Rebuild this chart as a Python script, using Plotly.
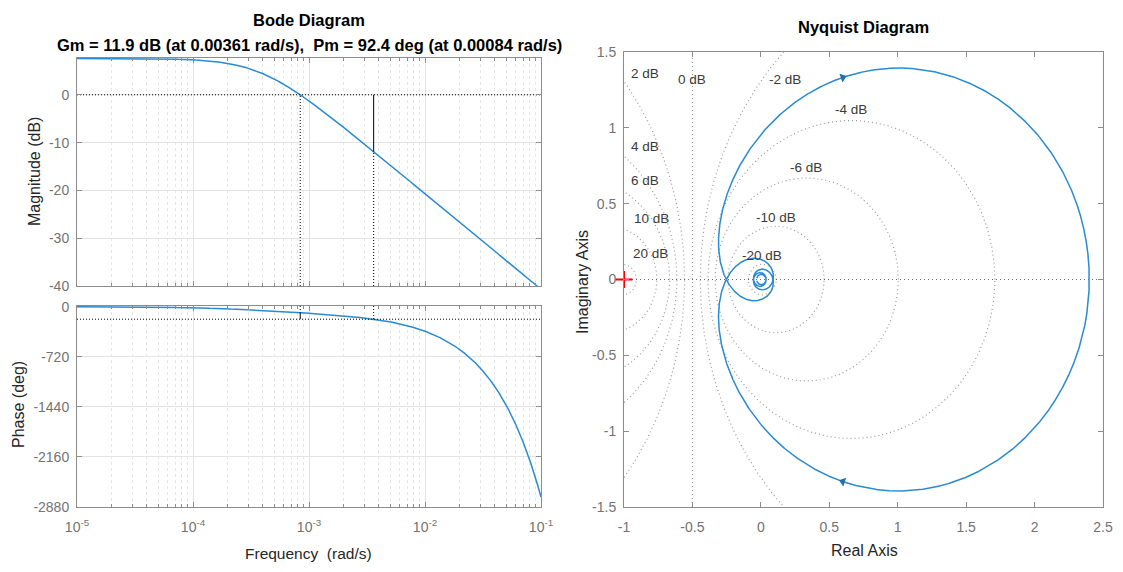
import numpy as np
import plotly.graph_objects as go

# Plant model: G(s) = K * exp(-Td*s) / (tau*s + 1)
dc_gain = 2.4            # static gain (about 7.6 dB)
time_constant = 2597.0   # s
dead_time = 462.0        # s

# Stability margins reported in the title
gm_db = 11.9
gm_freq = 0.00361
pm_deg = 92.4
pm_freq = 0.00084

# Frequency spans (rad/s)
bode_span = [1e-5, 1e-1]
nyquist_span = [1e-5, 3e-2]

# Axis ticks
freq_ticks = [1e-5, 1e-4, 1e-3, 1e-2, 1e-1]
freq_ticktext = ["10<sup>-5</sup>", "10<sup>-4</sup>", "10<sup>-3</sup>",
                 "10<sup>-2</sup>", "10<sup>-1</sup>"]
mag_ticks = [0, -10, -20, -30, -40]
phase_ticks = [0, -720, -1440, -2160, -2880]
re_ticks = [-1, -0.5, 0, 0.5, 1, 1.5, 2, 2.5]
im_ticks = [-1.5, -1, -0.5, 0, 0.5, 1, 1.5]

# Constant closed-loop magnitude contours (dB) for the Nyquist grid
m_levels_db = [20, 10, 6, 4, 2, 0, -2, -4, -6, -10, -20]


def response(w):
    return dc_gain * np.exp(-1j * dead_time * w) / (1j * time_constant * w + 1)


w = np.logspace(np.log10(bode_span[0]), np.log10(bode_span[1]), 6000)
G = response(w)
mag_db = 20 * np.log10(np.abs(G))
phase_deg = np.degrees(-np.arctan(time_constant * w) - dead_time * w)

wn = np.logspace(np.log10(nyquist_span[0]), np.log10(nyquist_span[1]), 6000)
Gn = response(wn)

BLUE = "#2a8bd2"
TICK_GRAY = "#737373"
LINE_GRAY = "#8c8c8c"
TEXT_DARK = "#262626"
FONT = "Liberation Sans, Arial, sans-serif"

W, H = 1123, 572


def px_x(p):
    return p / W


def px_y(p):
    return 1 - p / H


fig = go.Figure()

# ---------------- Bode magnitude ----------------
fig.add_trace(go.Scatter(x=w, y=mag_db, mode="lines", xaxis="x", yaxis="y",
                         line=dict(color=BLUE, width=1.5), showlegend=False))

MARGIN_DOT = dict(color="black", width=1, dash="1px,2px")
MARGIN_SOLID = dict(color="black", width=1)
mag_bottom, mag_top = -40, 7.7
phase_bottom, phase_top = -2880, 10

fig.add_trace(go.Scatter(x=bode_span, y=[0, 0], mode="lines", xaxis="x", yaxis="y",
                         line=MARGIN_DOT, showlegend=False))
fig.add_trace(go.Scatter(x=[pm_freq, pm_freq], y=[mag_bottom, 0], mode="lines",
                         xaxis="x", yaxis="y", line=MARGIN_DOT, showlegend=False))
fig.add_trace(go.Scatter(x=[gm_freq, gm_freq], y=[mag_bottom, -gm_db], mode="lines",
                         xaxis="x", yaxis="y", line=MARGIN_DOT, showlegend=False))
fig.add_trace(go.Scatter(x=[gm_freq, gm_freq], y=[-gm_db, 0], mode="lines",
                         xaxis="x", yaxis="y", line=MARGIN_SOLID, showlegend=False))

# ---------------- Bode phase ----------------
fig.add_trace(go.Scatter(x=w, y=phase_deg, mode="lines", xaxis="x2", yaxis="y2",
                         line=dict(color=BLUE, width=1.5), showlegend=False))
fig.add_trace(go.Scatter(x=bode_span, y=[-180, -180], mode="lines", xaxis="x2", yaxis="y2",
                         line=MARGIN_DOT, showlegend=False))
fig.add_trace(go.Scatter(x=[pm_freq, pm_freq], y=[phase_top, -180 + pm_deg], mode="lines",
                         xaxis="x2", yaxis="y2", line=MARGIN_DOT, showlegend=False))
fig.add_trace(go.Scatter(x=[pm_freq, pm_freq], y=[-180 + pm_deg, -180], mode="lines",
                         xaxis="x2", yaxis="y2", line=MARGIN_SOLID, showlegend=False))
fig.add_trace(go.Scatter(x=[gm_freq, gm_freq], y=[phase_top, -180], mode="lines",
                         xaxis="x2", yaxis="y2", line=MARGIN_DOT, showlegend=False))

# ---------------- Nyquist ----------------
GRID_DOT = dict(color="#9a9a9a", width=1.2, dash="1px,3px")
theta = np.linspace(0, 2 * np.pi, 721)
for lvl in m_levels_db:
    if lvl == 0:
        fig.add_trace(go.Scatter(x=[-0.5, -0.5], y=[-1.5, 1.5], mode="lines",
                                 xaxis="x3", yaxis="y3", line=GRID_DOT,
                                 hoverinfo="skip", showlegend=False))
        continue
    M = 10 ** (lvl / 20)
    c = -M ** 2 / (M ** 2 - 1)
    r = abs(M / (M ** 2 - 1))
    fig.add_trace(go.Scatter(x=c + r * np.cos(theta), y=r * np.sin(theta), mode="lines",
                             xaxis="x3", yaxis="y3", line=GRID_DOT,
                             hoverinfo="skip", showlegend=False))

# real axis
fig.add_trace(go.Scatter(x=[-1, 2.5], y=[0, 0], mode="lines", xaxis="x3", yaxis="y3",
                         line=dict(color="#6a6a6a", width=1.2, dash="1px,3px"),
                         hoverinfo="skip", showlegend=False))

# positive and negative frequency branches
re = Gn.real
im = Gn.imag
nyq_x = np.concatenate([re[::-1], re])
nyq_y = np.concatenate([-im[::-1], im])
fig.add_trace(go.Scatter(x=nyq_x, y=nyq_y, mode="lines", xaxis="x3", yaxis="y3",
                         line=dict(color=BLUE, width=1.5), showlegend=False))

# direction arrows on the main arc
sx, sy = 479 / 3.5, 455 / 3.0  # pixels per unit along each axis
nphase = np.degrees(-np.arctan(time_constant * wn) - dead_time * wn)
main = np.where(nphase > -150)[0]
k = main[np.argmin(np.abs(re[main] - 0.6))]
for sign in (1, -1):
    x0, y0 = re[k], sign * im[k]
    xa, ya = re[k + 1], sign * im[k + 1]
    dx, dy = (xa - x0, ya - y0) if sign == 1 else (x0 - xa, y0 - ya)
    ang = np.degrees(np.arctan2(dx * sx, dy * sy))
    fig.add_trace(go.Scatter(x=[x0], y=[y0], mode="markers", xaxis="x3", yaxis="y3",
                             marker=dict(symbol="triangle-up", size=8, angle=ang,
                                         color="#1f6fb5"),
                             showlegend=False))

# critical point
fig.add_trace(go.Scatter(x=[-1], y=[0], mode="markers", xaxis="x3", yaxis="y3",
                         marker=dict(symbol="cross-thin", size=12,
                                     line=dict(color="red", width=2)),
                         cliponaxis=False, showlegend=False))

# contour labels
m_label_xy = {
    20: (-0.81, 0.17), 10: (-0.80, 0.40), 6: (-0.85, 0.65), 4: (-0.85, 0.88),
    2: (-0.85, 1.36), 0: (-0.50, 1.32), -2: (0.18, 1.32), -4: (0.66, 1.12),
    -6: (0.33, 0.74), -10: (0.11, 0.41), -20: (0.01, 0.16),
}
annotations = []
for lvl in m_levels_db:
    lx, ly = m_label_xy[lvl]
    annotations.append(dict(x=lx, y=ly, xref="x3", yref="y3", text=f"{lvl} dB",
                            xanchor="center", yanchor="middle", showarrow=False,
                            font=dict(family=FONT, size=13.5, color="#3a3a3a")))


def label(x, y, text, size, color, angle=0):
    return dict(x=px_x(x), y=px_y(y), xref="paper", yref="paper", text=text,
                xanchor="center", yanchor="middle", textangle=angle, showarrow=False,
                font=dict(family=FONT, size=size, color=color))


annotations += [
    label(309, 20, "<b>Bode Diagram</b>", 16.5, "black"),
    label(309, 45, f"<b>Gm = {gm_db} dB (at {gm_freq} rad/s),  "
                   f"Pm = {pm_deg} deg (at {pm_freq} rad/s)</b>", 16.5, "black"),
    label(863, 27, "<b>Nyquist Diagram</b>", 16.5, "black"),
    label(308, 553, "Frequency  (rad/s)", 15.5, TEXT_DARK),
    label(864, 550, "Real Axis", 16, TEXT_DARK),
    label(35, 172, "Magnitude (dB)", 16, TEXT_DARK, -90),
    label(18, 405, "Phase (deg)", 16, TEXT_DARK, -90),
    label(582, 282, "Imaginary Axis", 16, TEXT_DARK, -90),
]

TICKFONT = dict(family=FONT, size=14, color=TICK_GRAY)
common = dict(showline=True, linecolor=LINE_GRAY, linewidth=1, mirror="ticks",
              ticks="inside", ticklen=5, tickcolor=LINE_GRAY, tickfont=TICKFONT,
              zeroline=False, automargin=False)
x_common = dict(common, ticklabelstandoff=7)
y_common = dict(common, ticklabelstandoff=4)
log_x = dict(x_common, type="log", range=[-5, -1], tickvals=freq_ticks, ticktext=freq_ticktext,
             showgrid=True, gridcolor="#e3e3e3", gridwidth=1,
             minor=dict(dtick="D1", ticks="inside", ticklen=3, tickcolor=LINE_GRAY,
                        showgrid=True, gridcolor="#e6e6e6", griddash="dot", gridwidth=1))

bode_x0, bode_x1 = px_x(77), px_x(541)
nyq_x0, nyq_x1 = px_x(624), px_x(1103)

fig.update_layout(
    width=W, height=H,
    margin=dict(l=0, r=0, t=0, b=0, autoexpand=False),
    paper_bgcolor="white", plot_bgcolor="white",
    showlegend=False,
    xaxis=dict(log_x, domain=[bode_x0, bode_x1], anchor="y", showticklabels=False),
    yaxis=dict(y_common, domain=[px_y(286), px_y(58)], anchor="x", range=[mag_bottom, mag_top],
               tickvals=mag_ticks, ticktext=[str(v) for v in mag_ticks],
               showgrid=True, gridcolor="#e3e3e3"),
    xaxis2=dict(log_x, domain=[bode_x0, bode_x1], anchor="y2", matches="x"),
    yaxis2=dict(y_common, domain=[px_y(507), px_y(306)], anchor="x2",
                range=[phase_bottom, phase_top],
                tickvals=phase_ticks, ticktext=[str(v) for v in phase_ticks],
                showgrid=True, gridcolor="#e3e3e3"),
    xaxis3=dict(x_common, domain=[nyq_x0, nyq_x1], anchor="y3", range=[-1, 2.5],
                tickvals=re_ticks, ticktext=[f"{v:g}" for v in re_ticks], showgrid=False),
    yaxis3=dict(y_common, domain=[px_y(507), px_y(52)], anchor="x3", range=[-1.5, 1.5],
                tickvals=im_ticks, ticktext=[f"{v:g}" for v in im_ticks], showgrid=False),
    annotations=annotations,
)

fig.write_html("out.html")
